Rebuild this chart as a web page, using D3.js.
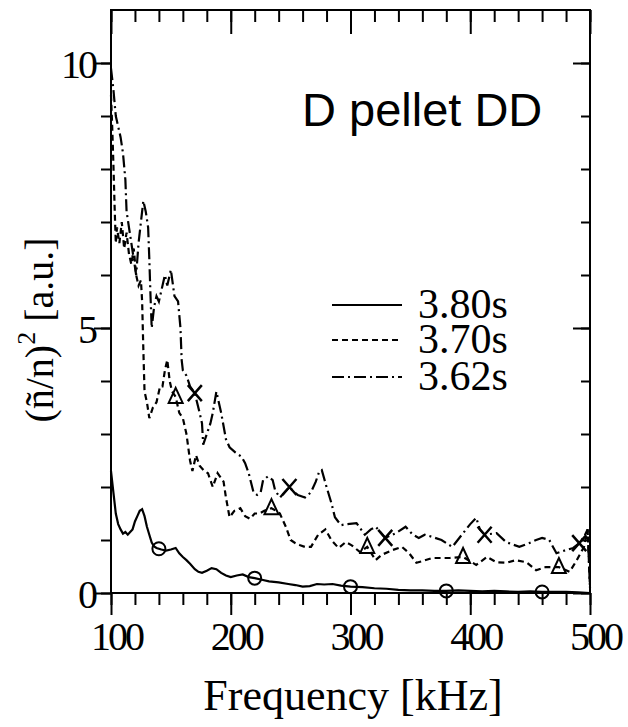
<!DOCTYPE html>
<html>
<head>
<meta charset="utf-8">
<script src="https://cdn.jsdelivr.net/npm/d3@7"></script>
<style>
  body { margin: 0; background: #fff; }
  text { fill: #000; }
</style>
</head>
<body>
<svg id="svg" width="628" height="727"></svg>
<script>
// spectra: [frequency kHz, (n~/n)^2 a.u.]
const s380 = [
  [100,2.3],[102,1.9],[104,1.5],[106,1.3],[108,1.2],[110,1.12],[112,1.15],[114,1.1],[116,1.15],
  [118,1.2],[120,1.35],[122,1.45],[124,1.55],[126,1.58],[128,1.45],[130,1.25],[132,1.1],[134,0.95],
  [136,0.88],[138,0.85],[142,0.82],[146,0.8],[150,0.82],[154,0.85],[157,0.75],[160,0.68],[163,0.62],
  [166,0.55],[170,0.45],[173,0.4],[176,0.38],[180,0.42],[184,0.47],[188,0.45],[192,0.38],[196,0.33],
  [200,0.3],[205,0.33],[210,0.35],[215,0.3],[220,0.28],[226,0.25],[232,0.22],[240,0.2],[248,0.17],
  [254,0.15],[260,0.12],[266,0.13],[272,0.17],[278,0.16],[285,0.17],[292,0.14],[300,0.12],[310,0.11],
  [320,0.09],[330,0.08],[340,0.06],[350,0.05],[360,0.05],[370,0.04],[380,0.04],[390,0.05],[400,0.04],
  [410,0.03],[420,0.04],[430,0.03],[440,0.02],[450,0.03],[460,0.02],[470,0.02],[480,0.02],[490,0.01],[500,0.0]
];
const s370 = [
  [100,9.4],[101,8.8],[102,8.1],[103,7.3],[104,6.6],[105,6.9],[107,6.6],[109,7.0],[111,6.5],[113,6.8],
  [115,6.4],[117,6.2],[119,6.5],[121,6.0],[123,5.8],[125,5.9],[126,5.5],[127,4.6],[128,3.8],[130,3.6],
  [132,3.3],[135,3.5],[138,3.6],[141,3.9],[143,3.9],[145,4.2],[147,4.4],[149,4.0],[151,3.8],[154,3.7],
  [157,3.4],[160,3.3],[163,3.0],[166,2.5],[168,2.3],[171,2.6],[174,2.4],[178,2.3],[181,2.26],[185,2.0],
  [189,2.26],[194,2.1],[196,1.8],[199,1.43],[203,1.55],[208,1.6],[212,1.45],[216,1.4],[220,1.5],
  [224,1.5],[228,1.55],[234,1.6],[238,1.55],[241,1.5],[246,1.25],[250,1.0],[254,0.94],[258,0.9],
  [262,0.87],[267,0.87],[273,1.1],[279,1.2],[284,1.0],[290,0.85],[296,0.96],[301,0.9],[308,0.77],
  [314,0.87],[321,0.62],[326,0.72],[335,0.81],[343,0.87],[349,0.75],[355,0.57],[360,0.6],[368,0.66],
  [375,0.66],[383,0.66],[394,0.68],[405,0.53],[414,0.68],[422,0.58],[430,0.57],[438,0.62],[447,0.58],
  [455,0.43],[463,0.49],[474,0.49],[483,0.4],[489,0.62],[495,0.87],[498,1.2],[500,0.1]
];
const s362 = [
  [100,9.9],[102,9.5],[104,9.0],[106,8.8],[108,8.6],[110,8.3],[112,7.8],[113,7.2],[115,6.9],[117,6.6],
  [119,6.3],[121,6.0],[123,6.6],[125,7.0],[127,7.4],[129,7.2],[131,6.9],[132,6.3],[133,5.6],[134,5.0],
  [136,5.4],[138,5.6],[140,5.5],[142,5.7],[145,6.0],[147,5.8],[150,6.1],[153,5.6],[156,5.5],[158,5.0],
  [159,4.4],[160,4.2],[163,4.1],[166,3.9],[170,3.77],[174,3.4],[176,3.2],[177,2.8],[180,3.0],[183,3.2],
  [185,3.4],[188,3.8],[192,3.4],[196,2.9],[199,2.75],[204,2.65],[209,2.57],[212,2.45],[215,2.26],
  [217,2.08],[219,1.9],[222,1.85],[225,1.9],[227,2.13],[231,2.2],[235,2.13],[237,1.94],[241,1.8],
  [245,1.9],[249,2.0],[253,1.9],[256,1.85],[262,1.8],[267,1.9],[271,2.1],[274,2.3],[276,2.32],[280,2.0],
  [284,1.7],[287,1.43],[292,1.28],[297,1.3],[305,1.32],[312,1.1],[317,1.2],[321,1.25],[329,1.04],
  [338,1.13],[346,1.25],[352,1.1],[357,1.04],[362,1.1],[368,1.06],[376,1.0],[385,0.87],[393,1.1],
  [400,1.3],[405,1.42],[408,1.2],[412,1.1],[422,1.13],[430,0.96],[441,0.87],[449,0.94],[455,1.0],
  [460,1.04],[466,1.0],[472,0.75],[480,0.81],[486,0.85],[491,0.94],[495,1.06],[498,1.2],[500,0.1]
];
const markFreq380 = [140, 220, 300, 380, 460];
const markFreq370 = [154, 234, 314, 394, 474];
const markFreq362 = [170, 249, 329, 412, 491];
const legendNames = ['3.80s', '3.70s', '3.62s'];
const xMajor = [100, 200, 300, 400, 500];
const yMajor = [0, 5, 10];

const svg = d3.select('#svg');
const serif = 'Liberation Serif, Times New Roman, serif';
const sans = 'Liberation Sans, Arial, sans-serif';

const x = d3.scaleLinear().domain([100, 500]).range([111, 590]);
const y = d3.scaleLinear().domain([0, 11]).range([593, 10]);

const xMinor = d3.range(100, 501, 20);
const yMinor = d3.range(0, 11, 1);

function styleAxis(g) {
    g.select('.domain').remove();
    g.selectAll('line').attr('stroke', '#000').attr('stroke-width', 2);
}

// bottom axis, ticks outward
svg.append('g').attr('transform', 'translate(0,' + y(0) + ')')
    .call(d3.axisBottom(x).tickValues(xMinor).tickSize(12).tickFormat(''))
    .call(styleAxis);
const xAx = svg.append('g').attr('transform', 'translate(0,' + y(0) + ')')
    .call(d3.axisBottom(x).tickValues(xMajor).tickSize(22).tickFormat(d3.format('d')))
    .call(styleAxis);
xAx.selectAll('text')
    .attr('y', 57).attr('dy', 0).attr('dx', 5)
    .style('font-family', serif).style('font-size', '40px').style('letter-spacing', '-3px');

// top axis, ticks inward
svg.append('g').attr('transform', 'translate(0,' + y(11) + ')')
    .call(d3.axisTop(x).tickValues(xMinor).tickSize(-12).tickFormat(''))
    .call(styleAxis);
svg.append('g').attr('transform', 'translate(0,' + y(11) + ')')
    .call(d3.axisTop(x).tickValues(xMajor).tickSize(-24).tickFormat(''))
    .call(styleAxis);

// left axis, ticks outward
svg.append('g').attr('transform', 'translate(' + x(100) + ',0)')
    .call(d3.axisLeft(y).tickValues(yMinor).tickSize(10).tickFormat(''))
    .call(styleAxis);
const yAx = svg.append('g').attr('transform', 'translate(' + x(100) + ',0)')
    .call(d3.axisLeft(y).tickValues(yMajor).tickSize(17).tickFormat(d3.format('d')))
    .call(styleAxis);
yAx.selectAll('text')
    .attr('x', -16).attr('dy', 0).attr('y', 14)
    .style('font-family', serif).style('font-size', '40px').style('letter-spacing', '-3px');

// right axis, ticks inward
svg.append('g').attr('transform', 'translate(' + x(500) + ',0)')
    .call(d3.axisRight(y).tickValues(yMinor).tickSize(-9).tickFormat(''))
    .call(styleAxis);
svg.append('g').attr('transform', 'translate(' + x(500) + ',0)')
    .call(d3.axisRight(y).tickValues(yMajor).tickSize(-17).tickFormat(''))
    .call(styleAxis);

// frame
svg.append('rect')
    .attr('x', x(100)).attr('y', y(11))
    .attr('width', x(500) - x(100)).attr('height', y(0) - y(11))
    .attr('fill', 'none').attr('stroke', '#000').attr('stroke-width', 2);

// curves
const line = d3.line().x(d => x(d[0])).y(d => y(d[1]));
const series = [
    {data: s380, dash: null, marks: markFreq380, shape: 'circle'},
    {data: s370, dash: '6,4', marks: markFreq370, shape: 'triangle'},
    {data: s362, dash: '12,4,2,4', marks: markFreq362, shape: 'cross'}
];

function valueAt(data, f) {
    const i = d3.bisector(d => d[0]).left(data, f);
    if (i <= 0) return data[0][1];
    const a = data[i - 1], b = data[i];
    return a[1] + (b[1] - a[1]) * (f - a[0]) / (b[0] - a[0]);
}

series.forEach(function(s) {
    svg.append('path')
        .datum(s.data)
        .attr('d', line)
        .attr('fill', 'none')
        .attr('stroke', '#000')
        .attr('stroke-width', 2.2)
        .attr('stroke-dasharray', s.dash);

    const g = svg.append('g');
    s.marks.forEach(function(f) {
        const cx = x(f), cy = y(valueAt(s.data, f));
        if (s.shape === 'circle') {
            g.append('circle').attr('cx', cx).attr('cy', cy).attr('r', 6.5)
                .attr('fill', 'none').attr('stroke', '#000').attr('stroke-width', 2);
        } else if (s.shape === 'triangle') {
            g.append('path')
                .attr('d', 'M' + cx + ',' + (cy - 9) + 'L' + (cx + 7) + ',' + (cy + 6) + 'L' + (cx - 7) + ',' + (cy + 6) + 'Z')
                .attr('fill', 'none').attr('stroke', '#000').attr('stroke-width', 2);
        } else {
            g.append('path')
                .attr('d', 'M' + (cx - 7) + ',' + (cy - 8) + 'L' + (cx + 7) + ',' + (cy + 8) +
                           'M' + (cx + 7) + ',' + (cy - 8) + 'L' + (cx - 7) + ',' + (cy + 8))
                .attr('fill', 'none').attr('stroke', '#000').attr('stroke-width', 2.5);
        }
    });
});

// legend
const legY = [305, 340, 377];
series.forEach(function(s, i) {
    svg.append('line')
        .attr('x1', 332).attr('x2', 402).attr('y1', legY[i]).attr('y2', legY[i])
        .attr('stroke', '#000').attr('stroke-width', 2)
        .attr('stroke-dasharray', s.dash);
    svg.append('text')
        .attr('x', 418).attr('y', legY[i] + 13)
        .style('font-family', serif).style('font-size', '42px')
        .text(legendNames[i]);
});

// annotation
svg.append('text')
    .attr('x', 302).attr('y', 126)
    .style('font-family', sans).style('font-size', '47px')
    .text('D pellet DD');

// axis titles
svg.append('text')
    .attr('x', 353).attr('y', 710)
    .attr('text-anchor', 'middle')
    .style('font-family', serif).style('font-size', '44px')
    .text('Frequency [kHz]');

const yTitle = svg.append('text')
    .attr('transform', 'translate(53,330) rotate(-90)')
    .attr('text-anchor', 'middle')
    .style('font-family', serif).style('font-size', '40px');
yTitle.append('tspan').text('(ñ/n)');
yTitle.append('tspan').attr('dy', -18).style('font-size', '26px').text('2');
yTitle.append('tspan').attr('dy', 18).text(' [a.u.]');
</script>
</body>
</html>
